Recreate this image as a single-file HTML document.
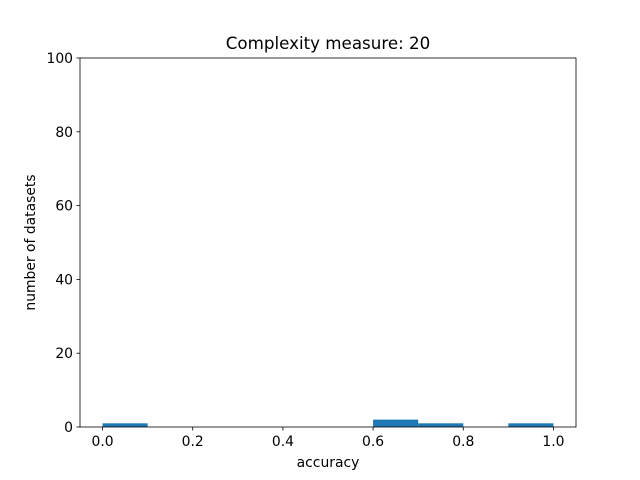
<!DOCTYPE html>
<html><head><meta charset="utf-8"><style>body{margin:0;background:#fff}svg{display:block;font-family:"DejaVu Sans","Liberation Sans",sans-serif}</style></head>
<body>
<svg id="chart" width="640" height="480">
<rect width="640" height="480" fill="#fff"/>
<g id="bars"></g>
<g id="axes"></g>
<text x="328" y="49" text-anchor="middle" font-size="16.7">Complexity measure: 20</text>
<text x="328" y="467" text-anchor="middle" font-size="13.9">accuracy</text>
<text transform="translate(35,242.5) rotate(-90)" text-anchor="middle" font-size="13.9">number of datasets</text>
</svg>
<script>
const binStarts=[0.0,0.6,0.7,0.9];
const binEnds=[0.1,0.7,0.8,1.0];
const counts=[1,2,1,1];
const xTicks=[0,0.2,0.4,0.6,0.8,1.0];
const xTickLabels=["0.0","0.2","0.4","0.6","0.8","1.0"];
const yTicks=[0,20,40,60,80,100];
const L=80,R=576,T=58,B=427;
const xs=v=>L+(v+0.05)/1.1*(R-L);
const ys=v=>B-v/100*(B-T);
const NS="http://www.w3.org/2000/svg";
const bars=document.getElementById('bars'),axes=document.getElementById('axes');
function mk(tag,a,p){const e=document.createElementNS(NS,tag);for(const k in a)e.setAttribute(k,a[k]);p.appendChild(e);return e;}
counts.forEach((c,i)=>{
 const r=mk('rect',{x:xs(binStarts[i]),y:ys(c),width:xs(binEnds[i])-xs(binStarts[i]),height:B-ys(c),fill:'#1f77b4'},bars);
 
 
});
const frame=mk('rect',{x:L,y:T,width:R-L,height:B-T,fill:'none',stroke:'#000','stroke-width':0.8},axes);


xTicks.forEach((v,i)=>{
 const x=xs(v);
 mk('line',{x1:x,x2:x,y1:B,y2:B+3.5,stroke:'#000','stroke-width':0.8},axes);
 const t=mk('text',{x:x,y:B+19,'text-anchor':'middle','font-size':13.9},axes);
 t.textContent=xTickLabels[i];
 
 
});
yTicks.forEach(v=>{
 const y=ys(v);
 mk('line',{x1:L-3.5,x2:L,y1:y,y2:y,stroke:'#000','stroke-width':0.8},axes);
 const t=mk('text',{x:L-7,y:y+5,'text-anchor':'end','font-size':13.9},axes);
 t.textContent=v;
 
 
});
</script>
</body></html>
